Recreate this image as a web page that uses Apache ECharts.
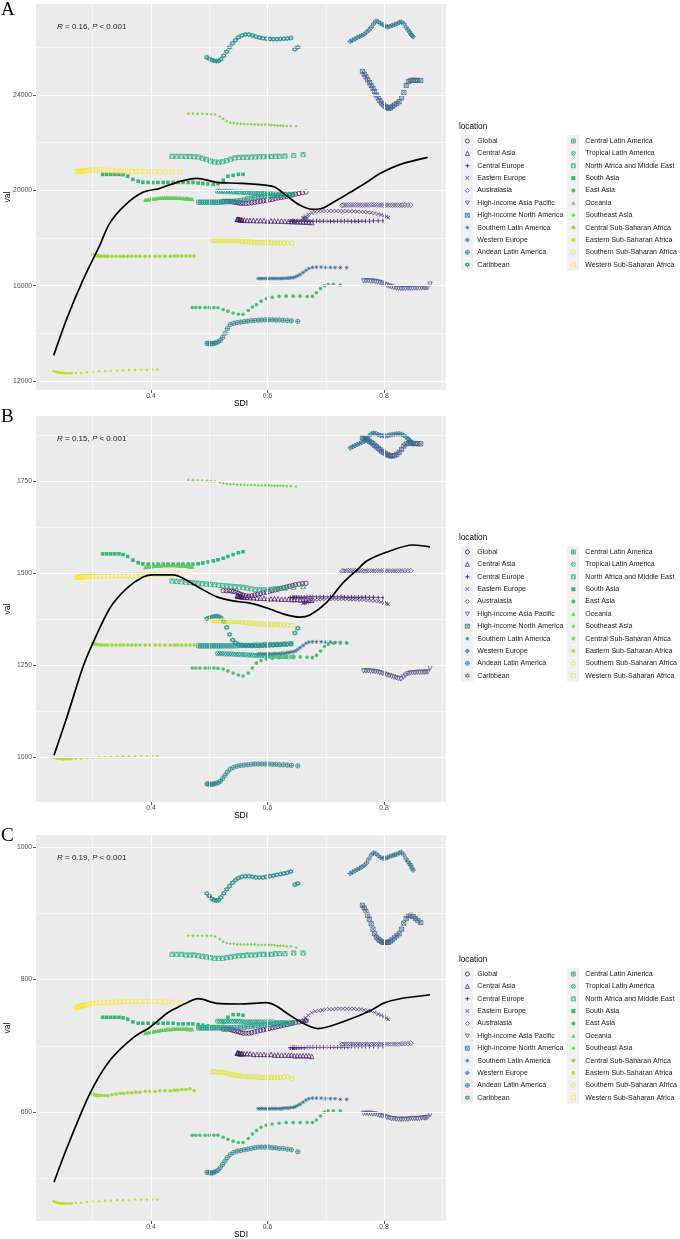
<!DOCTYPE html>
<html><head><meta charset="utf-8">
<script src="https://cdn.jsdelivr.net/npm/echarts@6/dist/echarts.min.js"></script>
<style>html,body{margin:0;padding:0;background:#fff}#c{width:680px;height:1239px}</style>
</head><body><div id="c"></div>
<script>
// ---------- DATA ----------
const locationNames = ['Global','Central Asia','Central Europe','Eastern Europe','Australasia','High-income Asia Pacific','High-income North America','Southern Latin America','Western Europe','Andean Latin America','Caribbean','Central Latin America','Tropical Latin America','North Africa and Middle East','South Asia','East Asia','Oceania','Southeast Asia','Central Sub-Saharan Africa','Eastern Sub-Saharan Africa','Southern Sub-Saharan Africa','Western Sub-Saharan Africa'];
const xTicks = [0.4, 0.6, 0.8];
const yTicksA = [12000, 16000, 20000, 24000];
const yTicksB = [1000, 1250, 1500, 1750];
const yTicksC = [600, 800, 1000];
const corrText = ['0.16', '0.15', '0.19'];

const sdi_Global = [0.524,0.529,0.534,0.538,0.542,0.546,0.550,0.554,0.558,0.563,0.568,0.573,0.578,0.583,0.588,0.593,0.598,0.603,0.608,0.613,0.618,0.623,0.628,0.633,0.638,0.643,0.648,0.654,0.660,0.666];
const A_Global = [19540,19545,19540,19530,19510,19490,19470,19460,19455,19450,19460,19480,19500,19520,19540,19560,19580,19600,19620,19650,19680,19700,19720,19750,19780,19810,19840,19870,19900,19930];
const B_Global = [1452,1452,1452,1451,1450,1448,1445,1442,1440,1438,1437,1438,1440,1442,1444,1446,1448,1450,1452,1454,1456,1458,1460,1462,1464,1466,1468,1470,1471,1472];
const C_Global = [725,725,725,724,723,722,721,720,719,719,719,720,721,722,723,724,725,726,727,728,729,730,731,732,733,734,735,736,737,738];

const sdi_CentralAsia = [0.556,0.552,0.549,0.548,0.549,0.551,0.553,0.556,0.560,0.565,0.570,0.576,0.582,0.588,0.594,0.600,0.606,0.612,0.618,0.624,0.630,0.636,0.641,0.646,0.651,0.656,0.661,0.666,0.671,0.676];
const A_CentralAsia = [18760,18770,18780,18790,18790,18780,18770,18760,18750,18740,18740,18740,18730,18730,18730,18720,18720,18720,18710,18710,18700,18700,18690,18690,18680,18680,18670,18670,18660,18650];
const B_CentralAsia = [1436,1437,1438,1438,1438,1437,1436,1435,1434,1434,1433,1433,1432,1432,1431,1431,1430,1430,1430,1429,1429,1429,1428,1428,1428,1427,1427,1427,1426,1426];
const C_CentralAsia = [688,688,689,689,689,689,688,688,688,688,688,687,687,687,687,687,687,686,686,686,686,686,686,685,685,685,685,685,685,684];

const sdi_CentralEurope = [0.639,0.643,0.645,0.647,0.650,0.654,0.658,0.663,0.668,0.673,0.678,0.684,0.690,0.696,0.702,0.708,0.714,0.720,0.726,0.732,0.738,0.744,0.750,0.756,0.762,0.768,0.775,0.782,0.790,0.798];
const A_CentralEurope = [18700,18710,18710,18700,18700,18710,18710,18710,18700,18700,18710,18710,18710,18710,18700,18700,18700,18710,18710,18710,18710,18700,18700,18700,18710,18710,18710,18720,18720,18720];
const B_CentralEurope = [1433,1433,1433,1434,1434,1434,1434,1434,1435,1435,1435,1435,1435,1435,1435,1435,1435,1435,1435,1434,1434,1434,1434,1434,1434,1434,1434,1434,1433,1433];
const C_CentralEurope = [697,697,697,697,697,697,697,697,698,698,698,698,698,698,698,698,698,698,698,698,698,699,699,699,699,699,699,699,699,699];

const sdi_EasternEurope = [0.668,0.664,0.661,0.662,0.665,0.670,0.676,0.682,0.688,0.694,0.700,0.706,0.712,0.718,0.724,0.730,0.736,0.742,0.748,0.754,0.760,0.766,0.772,0.778,0.784,0.790,0.795,0.800,0.804,0.807];
const A_EasternEurope = [18850,18830,18820,18840,18900,18980,19050,19100,19120,19130,19130,19130,19130,19130,19130,19130,19130,19120,19120,19110,19100,19090,19080,19060,19040,19010,18980,18940,18900,18860];
const B_EasternEurope = [1420,1419,1418,1419,1421,1423,1425,1427,1428,1429,1429,1429,1429,1429,1429,1429,1429,1428,1428,1428,1427,1427,1426,1425,1424,1423,1421,1419,1417,1415];
const C_EasternEurope = [738,737,737,739,742,746,750,752,753,754,755,755,755,756,756,756,756,756,756,755,755,754,753,752,750,748,746,744,742,740];

const sdi_Australasia = [0.728,0.731,0.735,0.739,0.743,0.747,0.751,0.755,0.759,0.763,0.767,0.771,0.775,0.779,0.783,0.787,0.791,0.795,0.799,0.803,0.807,0.811,0.815,0.819,0.823,0.827,0.831,0.836,0.841,0.846];
const A_Australasia = [19370,19380,19380,19390,19390,19390,19390,19390,19380,19380,19380,19390,19390,19400,19400,19390,19390,19380,19380,19380,19380,19380,19380,19380,19380,19380,19380,19380,19380,19380];
const B_Australasia = [1505,1505,1505,1506,1506,1506,1506,1506,1506,1506,1505,1505,1505,1505,1505,1505,1505,1505,1505,1505,1505,1505,1505,1505,1505,1505,1505,1506,1506,1506];
const C_Australasia = [702,702,702,702,702,702,702,702,702,702,702,702,702,702,702,702,702,702,702,702,702,702,702,702,702,702,703,703,703,704];

const sdi_HIAP = [0.765,0.769,0.773,0.777,0.781,0.785,0.789,0.793,0.797,0.801,0.805,0.809,0.813,0.817,0.821,0.825,0.829,0.833,0.837,0.841,0.845,0.849,0.853,0.857,0.861,0.865,0.869,0.872,0.875,0.879];
const A_HIAP = [16200,16200,16200,16190,16190,16180,16160,16130,16100,16060,16020,15980,15950,15920,15900,15890,15880,15880,15880,15890,15890,15890,15900,15900,15900,15900,15910,15910,15920,16060];
const B_HIAP = [1234,1234,1234,1233,1233,1232,1231,1229,1227,1225,1223,1221,1219,1217,1215,1213,1212,1217,1222,1226,1228,1229,1229,1230,1230,1230,1230,1231,1231,1242];
const C_HIAP = [598,598,598,598,597,597,596,595,594,593,592,591,590,590,589,589,589,589,589,589,590,590,590,590,590,591,591,591,592,596];

const sdi_HINA = [0.763,0.766,0.769,0.772,0.775,0.778,0.781,0.784,0.787,0.790,0.793,0.796,0.799,0.802,0.805,0.808,0.811,0.814,0.818,0.822,0.826,0.830,0.834,0.838,0.842,0.846,0.850,0.854,0.858,0.863];
const A_HINA = [24990,24870,24760,24640,24520,24400,24280,24150,24000,23880,23760,23660,23580,23520,23480,23440,23460,23520,23580,23640,23720,23880,24110,24400,24560,24610,24620,24620,24610,24610];
const B_HINA = [1867,1866,1864,1861,1858,1855,1851,1847,1843,1839,1835,1831,1828,1825,1822,1820,1818,1818,1819,1822,1828,1836,1845,1851,1853,1853,1852,1852,1851,1851];
const C_HINA = [912,908,903,897,891,884,876,869,864,861,859,857,856,856,856,856,858,860,863,866,869,876,885,892,896,897,895,892,889,886];

const sdi_SouthernLatAm = [0.584,0.588,0.592,0.596,0.600,0.604,0.608,0.612,0.616,0.620,0.624,0.628,0.632,0.636,0.640,0.644,0.648,0.652,0.656,0.661,0.666,0.671,0.677,0.684,0.692,0.700,0.708,0.716,0.725,0.736];
const A_SouthernLatAm = [16300,16300,16300,16300,16300,16300,16300,16300,16300,16300,16300,16310,16310,16320,16330,16340,16370,16410,16470,16550,16640,16720,16770,16780,16780,16770,16770,16760,16760,16750];
const B_SouthernLatAm = [1280,1280,1280,1280,1280,1280,1280,1281,1281,1281,1282,1282,1283,1284,1285,1286,1288,1292,1297,1303,1309,1312,1313,1313,1313,1312,1312,1311,1311,1310];
const C_SouthernLatAm = [605,605,605,605,605,605,605,605,605,605,605,606,606,606,607,607,608,610,612,615,618,620,621,621,621,620,620,620,619,619];

const sdi_WesternEurope = [0.742,0.746,0.750,0.754,0.758,0.762,0.766,0.770,0.774,0.778,0.782,0.786,0.790,0.794,0.798,0.802,0.806,0.810,0.814,0.818,0.822,0.826,0.830,0.834,0.838,0.841,0.844,0.846,0.848,0.850];
const A_WesternEurope = [26250,26300,26350,26400,26450,26500,26550,26640,26720,26830,26980,27100,27070,27000,26950,26890,26860,26880,26920,26950,26990,27040,27060,26990,26840,26740,26640,26560,26500,26450];
const B_WesternEurope = [1840,1843,1846,1849,1852,1855,1858,1864,1872,1878,1880,1879,1876,1874,1873,1872,1873,1875,1876,1877,1878,1878,1877,1874,1869,1865,1861,1857,1854,1851];
const C_WesternEurope = [960,962,964,966,968,970,972,976,982,988,991,990,987,984,983,983,984,986,987,988,989,991,992,988,982,978,975,972,968,965];

const sdi_AndeanLatAm = [0.496,0.499,0.502,0.505,0.508,0.511,0.515,0.519,0.523,0.527,0.531,0.536,0.542,0.548,0.554,0.560,0.566,0.572,0.578,0.584,0.590,0.596,0.602,0.608,0.614,0.620,0.627,0.634,0.641,0.652];
const A_AndeanLatAm = [13580,13580,13570,13570,13580,13600,13640,13700,13830,14000,14200,14370,14420,14450,14470,14490,14510,14530,14540,14550,14560,14570,14570,14570,14560,14560,14550,14540,14520,14500];
const B_AndeanLatAm = [927,927,926,926,927,928,930,934,941,950,959,967,972,975,977,978,979,980,981,981,981,981,981,980,980,979,979,978,977,976];
const C_AndeanLatAm = [509,509,508,508,509,510,512,516,521,526,531,536,539,541,542,543,544,545,546,547,547,547,547,546,546,545,545,544,543,540];

const sdi_Caribbean = [0.496,0.500,0.504,0.508,0.512,0.516,0.520,0.525,0.530,0.535,0.540,0.545,0.550,0.556,0.562,0.568,0.574,0.580,0.586,0.592,0.598,0.604,0.610,0.616,0.622,0.628,0.634,0.640,0.647,0.652];
const A_Caribbean = [25580,25520,25470,25440,25420,25430,25500,25650,25820,26000,26170,26300,26420,26500,26540,26540,26500,26450,26410,26380,26360,26350,26340,26340,26350,26360,26370,26390,25920,26000];
const B_Caribbean = [1376,1378,1380,1382,1383,1382,1378,1368,1352,1333,1318,1310,1306,1304,1303,1303,1302,1302,1302,1303,1303,1304,1304,1305,1305,1306,1306,1307,1337,1350];
const C_Caribbean = [930,926,922,920,919,920,924,930,936,941,946,950,953,955,956,956,955,954,954,954,955,956,957,958,959,960,961,963,943,945];

const sdi_CentralLatAm = [0.482,0.486,0.490,0.494,0.498,0.502,0.506,0.510,0.514,0.518,0.522,0.527,0.532,0.537,0.542,0.548,0.554,0.560,0.566,0.572,0.578,0.584,0.590,0.596,0.602,0.608,0.615,0.622,0.630,0.640];
const A_CentralLatAm = [19500,19500,19500,19500,19500,19500,19500,19500,19500,19510,19510,19520,19520,19530,19540,19550,19570,19600,19640,19680,19710,19730,19750,19760,19770,19780,19790,19800,19810,19830];
const B_CentralLatAm = [1302,1302,1302,1302,1302,1302,1302,1302,1302,1302,1302,1302,1302,1302,1302,1302,1303,1303,1303,1303,1304,1304,1304,1305,1305,1305,1306,1306,1307,1308];
const C_CentralLatAm = [727,727,727,727,727,727,727,727,727,727,727,727,727,727,727,727,728,728,729,729,730,730,731,731,732,732,733,733,734,734];

const sdi_TropicalLatAm = [0.514,0.518,0.522,0.526,0.530,0.534,0.538,0.542,0.546,0.550,0.554,0.558,0.562,0.566,0.570,0.574,0.578,0.582,0.586,0.590,0.595,0.600,0.605,0.610,0.615,0.620,0.625,0.630,0.636,0.644];
const A_TropicalLatAm = [19960,19960,19950,19950,19950,19940,19940,19930,19930,19920,19920,19910,19910,19900,19900,19890,19890,19880,19880,19870,19870,19860,19860,19850,19850,19840,19840,19840,19830,19830];
const B_TropicalLatAm = [1281,1281,1281,1280,1280,1280,1280,1279,1279,1279,1278,1278,1278,1277,1277,1277,1276,1276,1276,1275,1275,1275,1274,1274,1274,1273,1273,1273,1272,1272];
const C_TropicalLatAm = [737,737,737,737,737,737,737,737,737,737,737,736,736,736,736,736,736,736,736,736,736,736,736,736,735,735,735,735,735,735];

const sdi_NAME = [0.436,0.444,0.452,0.460,0.467,0.474,0.481,0.488,0.495,0.502,0.509,0.516,0.523,0.530,0.537,0.544,0.551,0.558,0.565,0.572,0.579,0.586,0.593,0.600,0.607,0.614,0.621,0.630,0.645,0.661];
const A_NAME = [21430,21430,21430,21420,21420,21410,21400,21350,21290,21230,21190,21180,21200,21250,21310,21360,21380,21390,21390,21400,21400,21410,21410,21420,21420,21430,21430,21440,21460,21500];
const B_NAME = [1478,1477,1476,1475,1474,1473,1472,1471,1470,1469,1468,1467,1466,1465,1464,1463,1462,1461,1459,1457,1455,1454,1454,1455,1456,1457,1458,1459,1461,1463];
const C_NAME = [838,838,838,837,837,837,836,835,834,833,832,832,832,833,834,835,836,836,837,837,837,838,838,838,838,839,839,839,840,840];

const sdi_SouthAsia = [0.317,0.324,0.331,0.338,0.345,0.352,0.360,0.369,0.378,0.386,0.395,0.403,0.412,0.421,0.429,0.438,0.447,0.455,0.464,0.472,0.481,0.489,0.498,0.507,0.515,0.524,0.532,0.541,0.550,0.558];
const A_SouthAsia = [20670,20670,20670,20670,20670,20660,20590,20460,20380,20340,20330,20330,20330,20330,20330,20330,20330,20330,20330,20330,20310,20290,20270,20250,20280,20420,20590,20630,20670,20670];
const B_SouthAsia = [1552,1552,1552,1552,1552,1550,1545,1535,1528,1525,1524,1524,1524,1524,1524,1524,1524,1524,1524,1524,1525,1527,1530,1533,1536,1540,1545,1550,1555,1558];
const C_SouthAsia = [743,743,743,743,743,742,740,736,734,734,734,734,734,734,734,734,733,733,733,733,732,731,730,729,729,735,743,747,747,746];

const sdi_EastAsia = [0.471,0.477,0.484,0.493,0.500,0.508,0.515,0.524,0.532,0.541,0.550,0.558,0.567,0.574,0.581,0.589,0.598,0.608,0.620,0.632,0.644,0.656,0.668,0.677,0.684,0.691,0.698,0.704,0.713,0.725];
const A_EastAsia = [15080,15080,15080,15080,15080,15080,15070,15000,14930,14850,14800,14800,14960,15100,15200,15350,15450,15510,15550,15560,15560,15560,15540,15550,15700,15880,15990,16050,16060,16030];
const B_EastAsia = [1242,1242,1242,1242,1242,1242,1241,1239,1234,1228,1223,1220,1228,1242,1255,1262,1266,1268,1270,1271,1272,1272,1271,1270,1276,1288,1300,1306,1309,1310];
const C_EastAsia = [565,565,565,565,565,565,565,562,559,556,554,554,560,567,572,577,580,582,583,584,584,584,584,584,588,594,600,602,602,602];

const sdi_Oceania = [0.390,0.393,0.396,0.399,0.402,0.405,0.408,0.411,0.414,0.417,0.420,0.423,0.426,0.429,0.432,0.435,0.438,0.441,0.444,0.447,0.450,0.453,0.456,0.459,0.461,0.463,0.465,0.467,0.469,0.471];
const A_Oceania = [19600,19610,19620,19630,19640,19650,19660,19670,19680,19680,19690,19690,19690,19690,19690,19690,19690,19690,19680,19680,19680,19670,19670,19660,19660,19650,19650,19640,19640,19630];
const B_Oceania = [1516,1517,1517,1518,1518,1519,1519,1520,1520,1520,1521,1521,1521,1521,1521,1521,1521,1521,1521,1520,1520,1520,1520,1519,1519,1519,1518,1518,1518,1517];
const C_Oceania = [719,720,720,721,721,722,722,723,723,724,724,724,725,725,725,725,726,726,726,726,726,726,726,726,726,725,725,725,725,725];

const sdi_SoutheastAsia = [0.464,0.472,0.480,0.488,0.496,0.503,0.510,0.518,0.524,0.530,0.536,0.542,0.548,0.554,0.560,0.566,0.572,0.578,0.584,0.590,0.596,0.602,0.607,0.612,0.617,0.622,0.627,0.633,0.640,0.649];
const A_SoutheastAsia = [23220,23220,23210,23210,23200,23190,23180,23100,23000,22900,22840,22820,22800,22790,22780,22770,22770,22760,22760,22750,22750,22740,22740,22730,22720,22720,22710,22700,22700,22690];
const B_SoutheastAsia = [1753,1752,1752,1751,1751,1750,1749,1746,1744,1742,1741,1741,1740,1740,1740,1739,1739,1739,1738,1738,1738,1738,1737,1737,1737,1737,1737,1736,1736,1735];
const C_SoutheastAsia = [866,866,866,866,866,866,865,861,857,855,854,854,853,853,853,853,853,853,852,852,852,852,852,852,851,851,851,850,850,848];

const sdi_CentralSSA = [0.300,0.302,0.304,0.305,0.307,0.309,0.312,0.316,0.321,0.326,0.333,0.340,0.347,0.353,0.360,0.367,0.374,0.381,0.390,0.398,0.407,0.415,0.424,0.433,0.440,0.446,0.453,0.460,0.467,0.474];
const A_CentralSSA = [17320,17300,17290,17270,17260,17250,17240,17240,17230,17230,17230,17230,17230,17230,17230,17230,17230,17230,17230,17230,17230,17230,17230,17230,17240,17240,17240,17240,17240,17240];
const B_CentralSSA = [1308,1307,1307,1306,1306,1305,1305,1304,1304,1304,1304,1304,1304,1304,1304,1304,1304,1304,1304,1304,1304,1304,1304,1304,1304,1304,1304,1304,1304,1304];
const C_CentralSSA = [627,626,626,626,625,625,625,625,625,625,626,627,628,628,629,629,630,630,631,631,631,632,632,632,633,633,634,634,635,632];

const sdi_EasternSSA = [0.233,0.235,0.237,0.238,0.240,0.242,0.244,0.245,0.247,0.249,0.251,0.254,0.257,0.261,0.264,0.271,0.280,0.290,0.300,0.311,0.321,0.331,0.342,0.352,0.362,0.373,0.383,0.393,0.402,0.411];
const A_EasternSSA = [12420,12400,12390,12380,12370,12360,12350,12350,12340,12340,12330,12330,12330,12330,12330,12340,12350,12370,12390,12410,12420,12430,12440,12450,12460,12460,12470,12470,12480,12480];
const B_EasternSSA = [998,997,997,996,996,995,995,995,994,994,994,994,994,994,994,995,996,997,998,999,1000,1001,1001,1002,1002,1002,1003,1003,1003,1003];
const C_EasternSSA = [465,464,464,463,463,463,462,462,462,462,462,462,462,462,462,463,463,464,465,465,466,466,467,467,467,468,468,468,468,468];

const sdi_SouthernSSA = [0.505,0.509,0.513,0.517,0.521,0.525,0.529,0.533,0.537,0.541,0.545,0.549,0.553,0.557,0.562,0.567,0.572,0.577,0.582,0.587,0.592,0.597,0.602,0.607,0.612,0.617,0.622,0.628,0.634,0.642];
const A_SouthernSSA = [17890,17890,17890,17890,17890,17890,17890,17890,17890,17890,17890,17880,17870,17860,17850,17840,17830,17820,17810,17810,17800,17800,17800,17790,17790,17790,17790,17790,17790,17780];
const B_SouthernSSA = [1370,1370,1370,1370,1370,1370,1369,1369,1369,1369,1368,1368,1367,1366,1365,1364,1363,1362,1362,1361,1361,1360,1360,1360,1360,1359,1359,1359,1358,1358];
const C_SouthernSSA = [661,661,660,660,660,660,659,658,657,656,655,655,654,654,654,653,653,653,653,652,652,652,652,652,652,652,652,653,653,650];

const sdi_WesternSSA = [0.273,0.274,0.276,0.278,0.280,0.281,0.283,0.286,0.290,0.295,0.300,0.305,0.312,0.319,0.326,0.333,0.340,0.347,0.353,0.360,0.367,0.374,0.381,0.390,0.398,0.407,0.415,0.424,0.436,0.450];
const A_WesternSSA = [20790,20790,20800,20800,20800,20810,20810,20820,20830,20840,20850,20860,20870,20860,20840,20820,20810,20800,20800,20790,20790,20790,20790,20780,20780,20780,20780,20770,20770,20770];
const B_WesternSSA = [1488,1488,1488,1489,1489,1489,1489,1490,1490,1490,1491,1491,1491,1492,1492,1492,1493,1493,1493,1494,1494,1494,1495,1495,1495,1496,1496,1496,1497,1497];
const C_WesternSSA = [758,758,759,759,760,760,761,761,762,763,764,764,765,765,765,766,766,766,767,767,767,767,767,767,767,767,767,766,766,765];

// loess fitted curves
const loessSdiA = [0.233,0.256,0.283,0.312,0.329,0.355,0.386,0.415,0.450,0.479,0.513,0.553,0.599,0.613,0.634,0.656,0.677,0.694,0.716,0.742,0.765,0.794,0.828,0.875];
const loessValA = [13075,14650,16223,17692,18615,19370,19916,20084,20378,20504,20336,20294,20210,20126,19748,19370,19203,19245,19538,19916,20252,20713,21091,21385];
const loessSdiB = [0.2335,0.2558,0.2833,0.3004,0.3296,0.3588,0.3863,0.4034,0.4378,0.4549,0.4841,0.5133,0.5408,0.5700,0.5991,0.6266,0.6558,0.6730,0.7021,0.7296,0.7536,0.7708,0.8052,0.8498,0.8790];
const loessValB = [1005,1109,1245,1310,1405,1459,1489,1495,1495,1486,1459,1435,1424,1418,1405,1389,1380,1386,1421,1473,1508,1533,1557,1576,1571];
const loessSdiC = [0.2335,0.2558,0.2953,0.3296,0.3691,0.3983,0.4275,0.4412,0.4618,0.4807,0.5133,0.5528,0.5991,0.6129,0.6386,0.6609,0.6867,0.7124,0.7588,0.7811,0.7983,0.8275,0.8790];
const loessValC = [494,546,628,678,712,728,749,756,765,771,764,763,765,761,746,734,726,731,746,755,764,771,777];

// ---------- TABLE BUILT FROM THE ARRAYS ----------
const SDI = [sdi_Global,sdi_CentralAsia,sdi_CentralEurope,sdi_EasternEurope,sdi_Australasia,sdi_HIAP,sdi_HINA,sdi_SouthernLatAm,sdi_WesternEurope,sdi_AndeanLatAm,sdi_Caribbean,sdi_CentralLatAm,sdi_TropicalLatAm,sdi_NAME,sdi_SouthAsia,sdi_EastAsia,sdi_Oceania,sdi_SoutheastAsia,sdi_CentralSSA,sdi_EasternSSA,sdi_SouthernSSA,sdi_WesternSSA];
const VALS = [
 [A_Global,A_CentralAsia,A_CentralEurope,A_EasternEurope,A_Australasia,A_HIAP,A_HINA,A_SouthernLatAm,A_WesternEurope,A_AndeanLatAm,A_Caribbean,A_CentralLatAm,A_TropicalLatAm,A_NAME,A_SouthAsia,A_EastAsia,A_Oceania,A_SoutheastAsia,A_CentralSSA,A_EasternSSA,A_SouthernSSA,A_WesternSSA],
 [B_Global,B_CentralAsia,B_CentralEurope,B_EasternEurope,B_Australasia,B_HIAP,B_HINA,B_SouthernLatAm,B_WesternEurope,B_AndeanLatAm,B_Caribbean,B_CentralLatAm,B_TropicalLatAm,B_NAME,B_SouthAsia,B_EastAsia,B_Oceania,B_SoutheastAsia,B_CentralSSA,B_EasternSSA,B_SouthernSSA,B_WesternSSA],
 [C_Global,C_CentralAsia,C_CentralEurope,C_EasternEurope,C_Australasia,C_HIAP,C_HINA,C_SouthernLatAm,C_WesternEurope,C_AndeanLatAm,C_Caribbean,C_CentralLatAm,C_TropicalLatAm,C_NAME,C_SouthAsia,C_EastAsia,C_Oceania,C_SoutheastAsia,C_CentralSSA,C_EasternSSA,C_SouthernSSA,C_WesternSSA]
];
const LOESS = [[loessSdiA,loessValA],[loessSdiB,loessValB],[loessSdiC,loessValC]];
const Y_TICKS = [yTicksA, yTicksB, yTicksC];

// ---------- STYLE ----------
const palette = ['#440154','#471164','#482374','#46337F','#424186','#3D4E8A','#375B8D','#31688E','#2C738E','#277F8E','#238A8D','#1F958B','#20A086','#26AC81','#35B779','#48C16E','#63CB5F','#80D34D','#9FDA3A','#BFDF25','#E0E318','#FDE725'];
const P = {
  plus:'path://M4,0H6V4H10V6H6V10H4V6H0V4H4Z',
  cross:'path://M0,1L1,0L5,4L9,0L10,1L6,5L10,9L9,10L5,6L1,10L0,9L4,5Z',
  down:'path://M0,0L10,0L5,9Z',
  sqX:'path://M0,0H10V10H0Z M0,0L10,10 M10,0L0,10',
  star:'path://M4.4,0H5.6V3.6L8.2,1L9,1.8L6.4,4.4H10V5.6H6.4L9,8.2L8.2,9L5.6,6.4V10H4.4V6.4L1.8,9L1,8.2L3.6,5.6H0V4.4H3.6L1,1.8L1.8,1L4.4,3.6Z',
  diaPlus:'path://M5,0L10,5L5,10L0,5Z M5,0V10 M0,5H10',
  cirPlus:'path://M0,5A5,5,0,1,1,10,5A5,5,0,1,1,0,5Z M5,0V10 M0,5H10',
  david:'path://M5,0L10,7.5L0,7.5Z M5,10L0,2.5L10,2.5Z',
  sqPlus:'path://M0,0H10V10H0Z M5,0V10 M0,5H10',
  cirX:'path://M0,5A5,5,0,1,1,10,5A5,5,0,1,1,0,5Z M1.5,1.5L8.5,8.5 M8.5,1.5L1.5,8.5',
  sqTri:'path://M0,0H10V10H0Z M0,10L5,0L10,10'
};
// [symbol, hollow, size]
const shapes = [
  ['circle',true,4.4],['triangle',true,4.6],[P.plus,false,4.4],[P.cross,false,4],['diamond',true,4.8],
  [P.down,true,4.4],[P.sqX,true,4.2],[P.star,false,4.2],[P.diaPlus,true,4.8],[P.cirPlus,true,4.4],
  [P.david,true,4.8],[P.sqPlus,true,4.2],[P.cirX,true,4.4],[P.sqTri,true,4.2],['rect',false,3.6],
  ['circle',false,3.6],['triangle',false,4.2],['diamond',false,3.1],['circle',false,3.6],['circle',false,2.5],
  ['circle',true,4.4],['rect',true,4]
];

const FONT = 'Liberation Sans, Arial, sans-serif';
const gridTops = [4, 416, 835];
const GH = 386, GL = 36, GW = 410;
const yRanges = [[11622, 27818], [877.7, 1926.6], [435.5, 1018.1]];
const yMinor = [[14000,18000,22000,26000],[1125,1375,1625,1875],[500,700,900]];
const xMinor = [0.3,0.5,0.7,0.9];
const xRange = [0.2026, 0.9064];
const legendRow0 = [141, 552, 974];

const grid = [], xAxis = [], yAxis = [], series = [], legend = [], graphic = [];
for (let p = 0; p < 3; p++) {
  grid.push({left: GL, top: gridTops[p], width: GW, height: GH, show: true, backgroundColor: '#EBEBEB', borderWidth: 0,
    containLabel: false, outerBoundsMode: 'none'});
  xAxis.push({gridIndex: p, type: 'value', min: xRange[0], max: xRange[1],
    splitLine: {show: false}, axisLine: {show: false},
    axisTick: {show: true, length: 3, customValues: xTicks, lineStyle: {color: '#333', width: 0.8}},
    axisLabel: {customValues: xTicks, formatter: v => v.toFixed(1), fontSize: 6.8, color: '#4D4D4D', margin: 3, fontFamily: FONT},
    name: 'SDI', nameLocation: 'middle', nameGap: 9.5, nameMoveOverlap: false,
    nameTextStyle: {fontSize: 8.5, color: '#000', fontFamily: FONT, verticalAlign: 'top'}
  });
  yAxis.push({gridIndex: p, type: 'value', min: yRanges[p][0], max: yRanges[p][1],
    splitLine: {show: false}, axisLine: {show: false},
    axisTick: {show: true, length: 3, customValues: Y_TICKS[p], lineStyle: {color: '#333', width: 0.8}},
    axisLabel: {customValues: Y_TICKS[p], formatter: v => String(Math.round(v)), fontSize: 6.8, color: '#4D4D4D', margin: 4, fontFamily: FONT},
    name: 'val', nameLocation: 'middle', nameGap: 24, nameMoveOverlap: false,
    nameTextStyle: {fontSize: 8.5, color: '#000', fontFamily: FONT}
  });
  // grid lines (ggplot-like)
  const ml = [];
  Y_TICKS[p].forEach(v => ml.push({yAxis: v, lineStyle: {color: '#fff', width: 1.1, type: 'solid'}}));
  yMinor[p].forEach(v => ml.push({yAxis: v, lineStyle: {color: '#fff', width: 0.55, type: 'solid'}}));
  xTicks.forEach(v => ml.push({xAxis: v, lineStyle: {color: '#fff', width: 1.1, type: 'solid'}}));
  xMinor.forEach(v => ml.push({xAxis: v, lineStyle: {color: '#fff', width: 0.55, type: 'solid'}}));
  series.push({type: 'line', xAxisIndex: p, yAxisIndex: p, data: [], silent: true, z: 1,
    markLine: {silent: true, symbol: 'none', label: {show: false}, animation: false, data: ml}});
  // points
  for (let i = 0; i < locationNames.length; i++) {
    const [sym, hollow, size] = shapes[i];
    const col = palette[i];
    const vals = VALS[p][i];
    series.push({
      type: 'scatter', name: locationNames[i], xAxisIndex: p, yAxisIndex: p, z: 3,
      symbol: sym, symbolSize: size, silent: true,
      itemStyle: hollow ? {color: 'rgba(0,0,0,0)', borderColor: col, borderWidth: 0.7, opacity: 1}
                        : {color: col, borderWidth: 0, opacity: 1},
      data: SDI[i].map((x, k) => [x, vals[k]])
    });
  }
  // loess line
  const [lx, ly] = LOESS[p];
  series.push({type: 'line', xAxisIndex: p, yAxisIndex: p, z: 6, silent: true, smooth: 0.3,
    showSymbol: false, symbol: 'none', lineStyle: {color: '#000', width: 1.7},
    data: lx.map((x, k) => [x, ly[k]])});

  // legends (two columns)
  const r0 = legendRow0[p];
  [0, 1].forEach(c => {
    legend.push({
      orient: 'vertical', left: c ? 571 : 465, top: r0 - 4, padding: 0,
      itemWidth: 4, itemHeight: 4, itemGap: 4.37,
      itemStyle: {borderWidth: 0.7},
      selectedMode: false, data: locationNames.slice(c * 11, c * 11 + 11),
      textStyle: {fontSize: 7, color: '#1a1a1a', fontFamily: FONT, lineHeight: 8, padding: [0, 0, 0, c ? 5 : 3]}
    });
    for (let r = 0; r < 11; r++) {
      graphic.push({type: 'rect', silent: true, z: -1,
        shape: {x: c ? 567 : 461, y: r0 + r * 12.37 - 6, width: 12, height: 12},
        style: {fill: '#F0F0F0'}});
    }
  });
  graphic.push({type: 'text', silent: true, left: 459, top: r0 - 18.5,
    style: {text: 'location', fontSize: 8.2, fill: '#000', fontFamily: FONT}});
  // panel letter
  graphic.push({type: 'text', silent: true, left: 1, top: gridTops[p] - (p === 0 ? 3 : 8),
    style: {text: ['A', 'B', 'C'][p], fontSize: 19, fill: '#000', fontFamily: 'Liberation Serif, Times New Roman, serif'}});
  // correlation annotation
  graphic.push({type: 'text', silent: true, left: 57, top: gridTops[p] + 18.5,
    style: {rich: {i: {fontStyle: 'italic', fontSize: 8, fontFamily: FONT, fill: '#1a1a1a'},
                   n: {fontSize: 8, fontFamily: FONT, fill: '#1a1a1a'}},
            text: '{i|R}{n| = ' + corrText[p] + ', }{i|P}{n| < 0.001}'}});
}

const chart = echarts.init(document.getElementById('c'), null, {renderer: 'canvas', width: 680, height: 1239});
chart.setOption({animation: false, backgroundColor: '#fff', grid, xAxis, yAxis, series, legend, graphic});
</script>
</body></html>
